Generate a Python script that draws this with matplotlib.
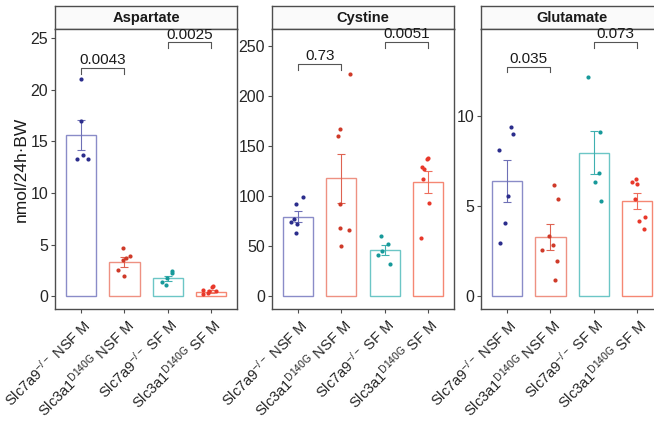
import numpy as np
from matplotlib import pyplot as plt

plt.rcParams['font.family'] = ['Liberation Sans', 'DejaVu Sans']
plt.rcParams['mathtext.fontset'] = 'custom'
plt.rcParams['mathtext.rm'] = 'Liberation Sans'
plt.rcParams['mathtext.it'] = 'Liberation Sans:italic'
plt.rcParams['mathtext.bf'] = 'Liberation Sans:bold'

# group labels (x axis)
groups = [r'Slc7a9$^{-/-}$ NSF M',
          r'Slc3a1$^{\mathrm{D140G}}$ NSF M',
          r'Slc7a9$^{-/-}$ SF M',
          r'Slc3a1$^{\mathrm{D140G}}$ SF M']

panels = ['Aspartate', 'Cystine', 'Glutamate']

# bar heights (mean) and standard error
asp_mean = [15.63, 3.33, 1.74, 0.45]
asp_se = [1.5, 0.45, 0.25, 0.12]
cys_mean = [79.5, 117.7, 45.9, 114.0]
cys_se = [5.6, 24.6, 5.2, 11.0]
glu_mean = [6.41, 3.30, 7.97, 5.27]
glu_se = [1.15, 0.72, 1.2, 0.44]

# individual animals
asp_points = [[21.06, 17.02, 13.73, 13.28, 13.28],
              [4.65, 3.9, 3.7, 3.55, 2.55, 1.97],
              [2.45, 2.23, 1.8, 1.35, 1.1],
              [1.03, 0.87, 0.51, 0.51, 0.35, 0.61, 0.19]]
cys_points = [[98.8, 92.1, 77.4, 74.1, 72.1, 63.4],
              [221.7, 167.2, 159.9, 92.1, 68.5, 66.2, 50.2],
              [60.2, 52.5, 45.5, 40.9, 32.2],
              [138.0, 136.6, 129.3, 127.0, 116.7, 93.1, 58.2]]
glu_points = [[9.37, 8.98, 8.10, 5.56, 4.09, 2.94],
              [6.17, 5.38, 3.36, 2.85, 2.57, 1.96, 0.89],
              [12.18, 9.13, 6.84, 6.36, 5.29],
              [6.49, 6.36, 6.21, 5.38, 4.42, 4.18, 3.73]]

# horizontal jitter of the points (category units)
asp_jit = [[0.0, 0.0, 0.04, -0.10, 0.15],
           [-0.02, 0.12, 0.04, -0.02, -0.14, 0.0],
           [0.10, 0.10, -0.02, -0.12, -0.03],
           [0.05, 0.02, 0.12, -0.04, -0.08, -0.18, -0.18]]
cys_jit = [[0.12, -0.04, -0.085, -0.16, -0.03, -0.04],
           [0.20, -0.04, -0.07, -0.02, -0.03, 0.17, -0.015],
           [-0.08, 0.085, -0.05, -0.15, 0.12],
           [0.01, -0.02, -0.13, -0.085, -0.115, 0.02, -0.17]]
glu_jit = [[0.085, 0.14, -0.18, 0.02, -0.05, -0.17],
           [0.08, 0.17, -0.03, 0.05, -0.19, 0.15, 0.11],
           [-0.13, 0.15, 0.12, 0.03, 0.17],
           [-0.02, -0.115, 0.01, -0.04, 0.18, 0.05, 0.16]]

# p-value brackets: (group a, group b, height, label)
asp_pvals = [(0, 1, 22.15, '0.0043'), (2, 3, 24.6, '0.0025')]
cys_pvals = [(0, 1, 231.4, '0.73'), (2, 3, 254.0, '0.0051')]
glu_pvals = [(0, 1, 12.75, '0.035'), (2, 3, 14.12, '0.073')]

ylims = [(-1.23, 25.9), (-12.7, 266.6), (-0.70, 14.83)]
yticks = [[0, 5, 10, 15, 20, 25], [0, 50, 100, 150, 200, 250], [0, 5, 10]]

point_colors = ['#2B2D8C', '#CF3A29', '#17999A', '#E8382A']
bar_colors = ['#8A8CC8', '#EE9182', '#6CC6C6', '#F58773']
err_colors = ['#6E70B6', '#DE6352', '#3FB0B0', '#EE6E5C']

means = [asp_mean, cys_mean, glu_mean]
ses = [asp_se, cys_se, glu_se]
points = [asp_points, cys_points, glu_points]
jits = [asp_jit, cys_jit, glu_jit]
pvals = [asp_pvals, cys_pvals, glu_pvals]

W, H = 654, 425
fig = plt.figure(figsize=(W / 100, H / 100), dpi=100)
lefts = [55, 272, 481]
pw = 182
frame = '#4D4D4D'

for k in range(3):
    ax = fig.add_axes([lefts[k] / W, 1 - 309 / H, pw / W, 280 / H])
    st = fig.add_axes([lefts[k] / W, 1 - 29 / H, pw / W, 23 / H])
    ax.set_zorder(3)  # so the top p-value labels sit over the strip

    x = np.arange(4)
    ax.bar(x, means[k], width=0.7, facecolor='white', edgecolor=bar_colors,
           linewidth=1.0, zorder=1)
    for i in range(4):
        ax.errorbar(i, means[k][i], yerr=ses[k][i], fmt='none', ecolor=err_colors[i],
                    elinewidth=0.8, capsize=3, capthick=0.8, zorder=2)
        ax.scatter(i + np.array(jits[k][i]), points[k][i], s=9, color=point_colors[i],
                   linewidths=0, zorder=3)

    lo, hi = ylims[k]
    ax.set_ylim(lo, hi)
    ax.set_xlim(-0.6, 3.6)
    ax.set_yticks(yticks[k])
    ax.set_xticks(x)
    ax.set_xticklabels(groups, rotation=45, ha='right', va='top',
                       rotation_mode='anchor', fontsize=10.5, color='#1A1A1A')
    ax.tick_params(axis='y', labelsize=11.5)
    ax.tick_params(axis='both', length=3, width=0.8, color=frame,
                   labelcolor='#262626', pad=2)
    for s in ax.spines.values():
        s.set_color(frame)
        s.set_linewidth(1.0)

    drop = 0.0214 * (hi - lo)
    for a, b, yb, lab in pvals[k]:
        ax.plot([a, a, b, b], [yb - drop, yb, yb, yb - drop], color='#555555',
                lw=0.8, clip_on=False)
        ax.text((a + b) / 2, yb + 0.003 * (hi - lo), lab, ha='center', va='bottom',
                fontsize=11, color='#1A1A1A')

    st.set_xticks([])
    st.set_yticks([])
    st.set_facecolor('#FAFAFA')
    for s in st.spines.values():
        s.set_color(frame)
        s.set_linewidth(1.0)
    st.text(0.5, 0.48, panels[k], ha='center', va='center', fontsize=10.5,
            fontweight='bold', color='#1A1A1A', transform=st.transAxes)

    if k == 0:
        ax.set_ylabel('nmol/24h·BW', fontsize=12.5, color='#1A1A1A', labelpad=1)

fig.savefig('out.png', dpi=100)
